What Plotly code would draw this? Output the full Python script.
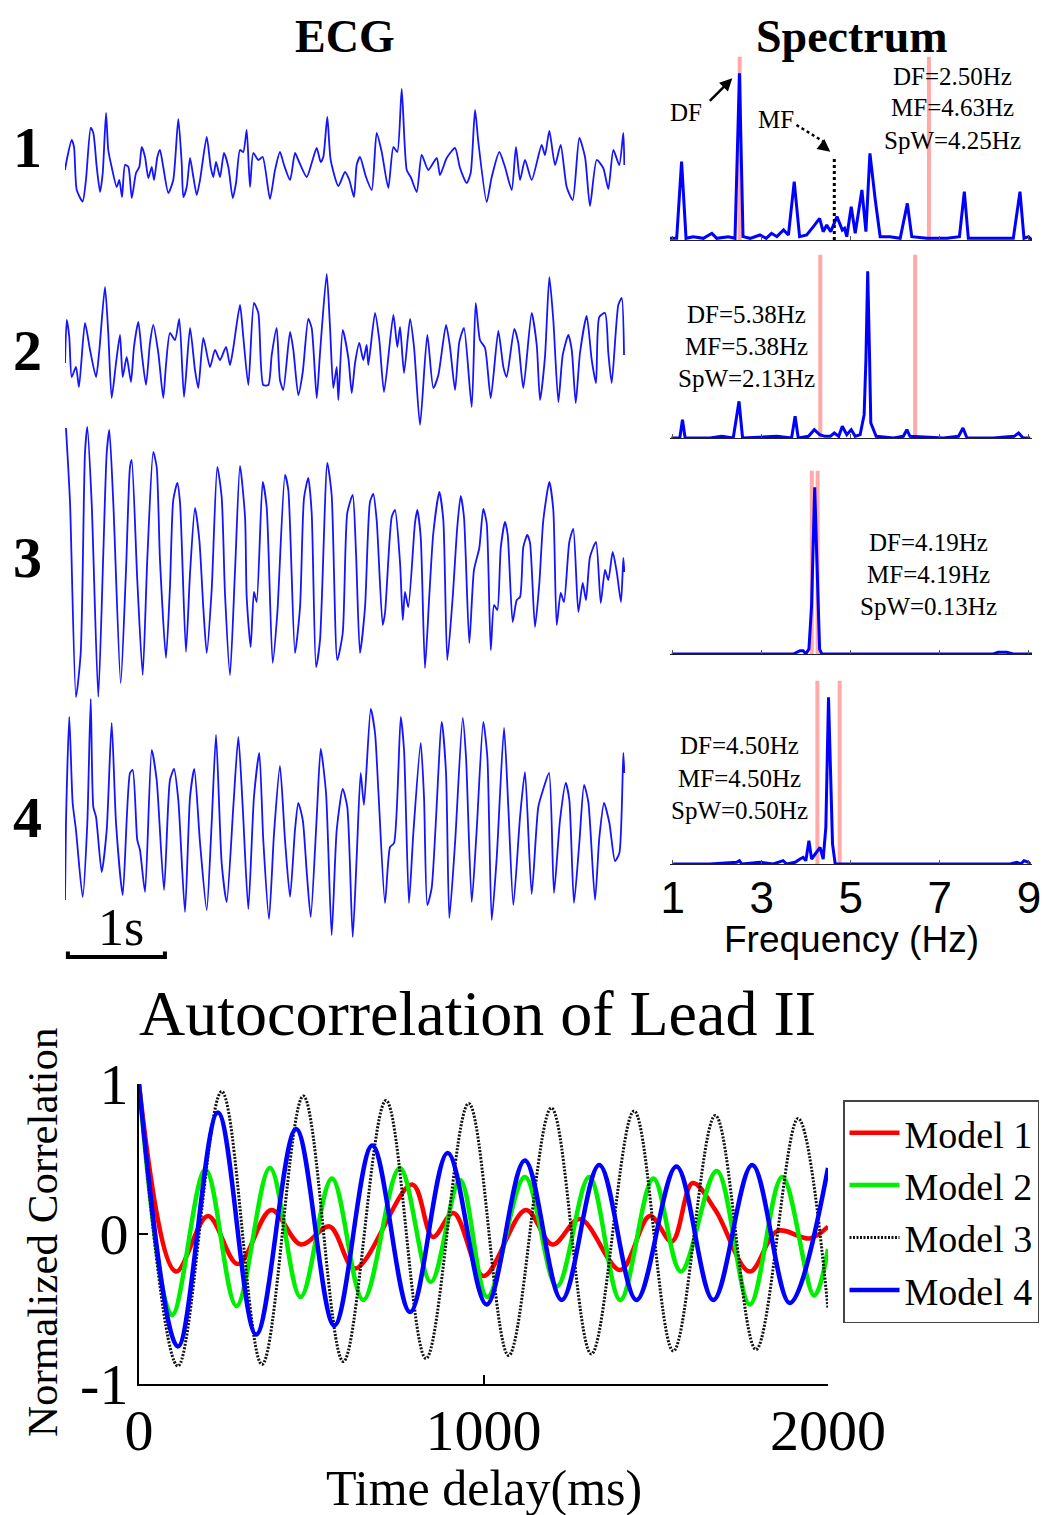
import plotly.graph_objects as go

W, H = 1044, 1515
SERIF = "Liberation Serif, Times New Roman, serif"
SANS = "Liberation Sans, Arial, sans-serif"


def px_x(p):
    return p / W


def px_y(p):
    return 1 - p / H


def axis_key(kind, i):
    return f"{kind}axis" if i == 1 else f"{kind}axis{i}"


def axis_ref(kind, i):
    return kind if i == 1 else f"{kind}{i}"


# ---------------------------------------------------------------- ECG traces
# (time in s, amplitude in mV)
ecg1 = [(0.000, -0.10), (0.018, 0.10), (0.069, 0.50), (0.093, 0.36), (0.121, -0.50), (0.182, -0.73),
        (0.216, -0.30), (0.265, 0.74), (0.292, 0.64), (0.327, -0.04), (0.361, -0.54), (0.389, -0.16),
        (0.423, 1.04), (0.446, 0.30), (0.481, -0.04), (0.533, -0.44), (0.560, -0.30), (0.588, -0.64),
        (0.619, 0.00), (0.653, -0.04), (0.688, -0.66), (0.732, -0.16), (0.766, -0.04), (0.791, 0.36),
        (0.825, 0.16), (0.859, -0.26), (0.894, -0.04), (0.918, -0.30), (0.952, 0.16), (0.979, 0.30),
        (1.013, -0.04), (1.065, -0.56), (1.116, -0.30), (1.168, 0.92), (1.203, 0.04), (1.220, -0.64),
        (1.255, -0.44), (1.289, 0.14), (1.323, -0.24), (1.358, -0.60), (1.392, -0.30), (1.461, 0.56),
        (1.502, -0.04), (1.529, -0.24), (1.557, 0.06), (1.598, -0.24), (1.639, 0.24), (1.684, -0.04),
        (1.729, -0.66), (1.763, -0.36), (1.804, 0.30), (1.838, 0.26), (1.873, 0.70), (1.907, -0.44),
        (1.941, 0.24), (1.993, 0.10), (2.038, 0.16), (2.113, -0.68), (2.165, -0.10), (2.216, 0.26),
        (2.258, 0.00), (2.320, -0.30), (2.371, 0.24), (2.405, 0.10), (2.492, -0.24), (2.543, 0.04),
        (2.595, 0.34), (2.636, 0.06), (2.663, 0.16), (2.704, 0.96), (2.739, 0.10), (2.818, -0.42),
        (2.887, -0.14), (2.931, -0.30), (2.979, -0.64), (3.007, 0.00), (3.041, 0.16), (3.103, -0.24),
        (3.162, -0.50), (3.213, 0.64), (3.265, 0.26), (3.333, -0.46), (3.385, 0.36), (3.426, 0.26),
        (3.471, 1.52), (3.523, -0.10), (3.564, -0.24), (3.626, -0.54), (3.677, 0.20), (3.745, -0.10),
        (3.832, 0.14), (3.866, -0.20), (3.935, 0.14), (4.021, 0.34), (4.072, -0.06), (4.141, -0.36),
        (4.182, -0.16), (4.227, 1.10), (4.261, 0.46), (4.347, -0.74), (4.399, -0.24), (4.477, 0.26),
        (4.536, -0.04), (4.605, -0.50), (4.649, 0.36), (4.691, -0.30), (4.742, 0.10), (4.811, -0.30),
        (4.914, 0.40), (4.948, 0.20), (4.993, 0.68), (5.052, 0.00), (5.110, 0.40), (5.172, -0.44),
        (5.234, -0.70), (5.302, 0.54), (5.361, 0.16), (5.412, -0.82), (5.481, 0.10), (5.549, -0.06),
        (5.601, -0.48), (5.653, 0.30), (5.714, 0.00), (5.756, 0.64), (5.766, 0.00)]

ecg2 = [(0.000, -0.16), (0.018, 0.70), (0.044, 0.36), (0.069, -0.44), (0.113, -0.24), (0.144, -0.64),
        (0.206, 0.64), (0.258, 0.10), (0.320, -0.44), (0.354, 0.10), (0.412, 1.36), (0.446, 0.44),
        (0.481, -0.86), (0.526, -0.16), (0.567, 0.40), (0.595, -0.44), (0.636, -0.04), (0.680, -0.54),
        (0.711, 0.16), (0.756, 0.66), (0.791, 0.04), (0.835, -0.60), (0.876, 0.24), (0.910, 0.60),
        (0.962, 0.04), (1.013, -0.86), (1.041, -0.20), (1.082, 0.44), (1.134, 0.30), (1.178, 0.72),
        (1.227, -0.84), (1.289, 0.54), (1.340, -0.30), (1.374, -0.66), (1.426, 0.34), (1.495, -0.24),
        (1.546, 0.10), (1.598, -0.10), (1.660, 0.16), (1.701, -0.20), (1.735, 0.14), (1.804, 1.00),
        (1.838, 0.36), (1.890, -0.60), (1.948, 1.04), (1.993, 0.84), (2.044, -0.60), (2.096, -0.60),
        (2.131, 0.00), (2.182, 0.54), (2.216, -0.50), (2.250, -0.70), (2.320, 0.46), (2.354, 0.10),
        (2.405, -0.80), (2.451, -0.34), (2.508, 0.72), (2.543, 0.54), (2.595, -0.86), (2.629, 0.04),
        (2.698, 1.62), (2.732, 0.56), (2.766, -0.66), (2.801, -0.24), (2.818, -0.90), (2.863, 0.50),
        (2.921, -0.06), (2.956, -0.76), (2.990, -0.16), (3.034, 0.24), (3.075, -0.10), (3.110, 0.20),
        (3.127, -0.20), (3.196, 0.84), (3.240, 0.30), (3.289, -0.74), (3.385, 0.80), (3.426, 0.16),
        (3.454, 0.56), (3.495, -0.36), (3.557, 0.72), (3.598, 0.16), (3.660, -1.40), (3.735, 0.40),
        (3.797, -0.66), (3.849, -0.40), (3.928, 0.60), (3.969, 0.16), (4.021, -0.70), (4.065, 0.26),
        (4.113, 0.54), (4.193, -1.04), (4.234, 1.04), (4.278, 0.30), (4.330, 0.14), (4.389, -0.86),
        (4.467, 0.48), (4.519, -0.24), (4.553, -0.44), (4.632, 0.52), (4.673, 0.24), (4.725, -0.66),
        (4.811, 0.84), (4.863, 0.20), (4.897, -0.90), (4.948, -0.04), (4.993, 1.56), (5.034, 0.70),
        (5.086, -0.94), (5.131, 0.00), (5.189, 0.40), (5.224, 0.10), (5.265, -0.96), (5.309, 0.04),
        (5.378, 0.78), (5.430, -0.10), (5.474, -0.56), (5.508, 0.76), (5.567, 0.84), (5.601, 0.04),
        (5.636, -0.56), (5.704, 1.00), (5.739, 1.14), (5.763, 0.00)]

ecg3 = [(0.010, 2.64), (0.052, 1.14), (0.113, -2.74), (0.162, -1.86), (0.206, 2.14), (0.230, 2.66),
        (0.275, 1.14), (0.343, -2.74), (0.395, 0.14), (0.430, 2.14), (0.457, 2.60), (0.498, 1.14),
        (0.574, -2.46), (0.629, -0.20), (0.670, 1.86), (0.688, 2.00), (0.745, -0.40), (0.801, -2.30),
        (0.848, 0.00), (0.910, 2.16), (0.945, 1.86), (0.979, 0.00), (1.041, -1.96), (1.082, -0.54),
        (1.116, 1.20), (1.158, 1.54), (1.186, 1.14), (1.247, -1.84), (1.289, -0.26), (1.340, 1.04),
        (1.385, 0.40), (1.426, -0.96), (1.461, -1.86), (1.512, -0.60), (1.570, 1.86), (1.615, 1.26),
        (1.649, -0.66), (1.701, -2.30), (1.753, -0.20), (1.804, 1.88), (1.856, 0.86), (1.873, -0.74),
        (1.914, -1.74), (1.948, -0.64), (1.976, -0.84), (2.038, 1.56), (2.079, 1.06), (2.141, -2.06),
        (2.189, -1.06), (2.268, 1.70), (2.302, 1.40), (2.371, -1.86), (2.423, -0.94), (2.464, 1.24),
        (2.508, 1.64), (2.543, 0.94), (2.588, -2.14), (2.629, -1.60), (2.704, 1.94), (2.749, 1.30),
        (2.807, -2.00), (2.863, -1.46), (2.910, 0.94), (2.966, 1.30), (3.000, 0.14), (3.041, -1.86),
        (3.093, -0.94), (3.144, 1.16), (3.178, 1.32), (3.213, 0.80), (3.275, -1.30), (3.299, -1.06),
        (3.368, 0.86), (3.402, 1.00), (3.454, -0.06), (3.482, -1.20), (3.505, -0.64), (3.539, -0.94),
        (3.608, 0.74), (3.632, 1.00), (3.667, 0.46), (3.711, -2.16), (3.756, -0.70), (3.797, 0.54),
        (3.859, 1.36), (3.900, 0.80), (3.941, -2.00), (3.997, -0.74), (4.044, 0.66), (4.079, 1.28),
        (4.113, 0.86), (4.168, -1.66), (4.216, -0.20), (4.271, 0.24), (4.312, 1.02), (4.347, 0.74),
        (4.389, -1.80), (4.423, -0.90), (4.457, -1.00), (4.492, 0.24), (4.536, 0.76), (4.564, 0.50),
        (4.615, -1.24), (4.657, -0.80), (4.691, -0.74), (4.725, 0.26), (4.766, 0.50), (4.794, 0.34),
        (4.845, -1.34), (4.890, -0.46), (4.931, 0.80), (4.993, 1.56), (5.034, 1.00), (5.069, -1.30),
        (5.110, -0.66), (5.144, -0.84), (5.199, 0.36), (5.240, 0.62), (5.292, -1.04), (5.337, -0.46),
        (5.371, -0.80), (5.412, 0.06), (5.474, 0.36), (5.523, -0.86), (5.567, -0.20), (5.601, -0.40),
        (5.646, 0.16), (5.688, -0.24), (5.732, -0.84), (5.756, 0.04), (5.766, -0.24)]

ecg4 = [(0.000, -1.60), (0.010, -0.06), (0.044, 2.06), (0.079, 0.34), (0.113, -0.20), (0.182, -1.54),
        (0.230, -0.06), (0.265, 2.42), (0.292, 0.26), (0.320, 0.06), (0.378, -1.04), (0.430, -0.20),
        (0.481, 1.94), (0.526, -0.06), (0.595, -1.50), (0.670, 0.94), (0.698, 1.00), (0.745, -0.40),
        (0.773, -0.60), (0.825, -1.44), (0.894, 1.40), (0.945, 0.80), (1.021, -1.40), (1.082, 0.80),
        (1.124, 1.02), (1.168, 0.40), (1.237, -1.84), (1.289, 0.46), (1.333, 1.02), (1.392, -0.46),
        (1.461, -1.80), (1.512, -0.06), (1.557, 1.70), (1.615, -0.86), (1.667, -1.64), (1.735, 0.26),
        (1.787, 1.66), (1.832, 0.26), (1.890, -1.78), (1.948, 0.46), (2.003, 1.34), (2.044, -0.40),
        (2.103, -1.98), (2.155, -0.26), (2.216, 1.08), (2.268, -0.40), (2.320, -1.54), (2.371, -0.20),
        (2.405, 0.34), (2.451, 0.00), (2.492, -1.04), (2.533, -1.94), (2.595, 0.06), (2.636, 1.42),
        (2.691, 0.54), (2.749, -2.30), (2.801, -0.20), (2.863, 0.62), (2.910, 0.26), (2.966, -2.34),
        (3.007, -0.74), (3.048, 0.94), (3.082, 0.30), (3.152, 2.22), (3.196, 1.74), (3.230, 0.60),
        (3.299, -1.66), (3.351, -0.54), (3.392, -0.46), (3.461, 2.06), (3.495, 1.40), (3.546, -1.66),
        (3.591, -0.26), (3.667, 1.54), (3.701, 0.46), (3.735, -1.70), (3.780, -1.36), (3.884, 1.96),
        (3.928, 0.94), (3.962, -1.96), (4.021, -0.46), (4.100, 2.04), (4.134, 1.26), (4.193, -1.64),
        (4.244, -0.20), (4.312, 1.96), (4.354, 1.26), (4.399, -2.00), (4.451, -0.74), (4.526, 1.84),
        (4.570, 0.26), (4.622, -1.70), (4.691, 0.06), (4.742, 0.96), (4.811, -1.48), (4.879, 0.26),
        (4.931, 0.62), (4.990, 0.94), (5.041, -1.46), (5.103, 0.00), (5.162, 0.74), (5.199, 0.40),
        (5.247, -1.66), (5.302, -0.46), (5.351, 0.70), (5.395, 0.36), (5.464, -1.60), (5.508, -0.36),
        (5.557, 0.34), (5.612, -0.06), (5.670, -0.82), (5.715, -0.66), (5.756, 1.34), (5.766, 0.94)]

ecg_rows = [ecg1, ecg2, ecg3, ecg4]
ecg_labels = ["1", "2", "3", "4"]
scale_bar_s = 1.0

# ---------------------------------------------------------------- spectra
# (frequency in Hz, normalised power)
spec1 = [(0.94, 0.01), (1.09, 0.01), (1.20, 0.47), (1.30, 0.01), (1.46, 0.02), (1.69, 0.01), (1.88, 0.04),
         (1.99, 0.01), (2.25, 0.02), (2.40, 0.01), (2.50, 1.00), (2.58, 0.02), (2.74, 0.01), (2.96, 0.03),
         (3.10, 0.01), (3.22, 0.04), (3.34, 0.02), (3.49, 0.06), (3.60, 0.03), (3.73, 0.35), (3.85, 0.02),
         (4.01, 0.03), (4.16, 0.08), (4.30, 0.13), (4.38, 0.05), (4.46, 0.09), (4.55, 0.05), (4.69, 0.14),
         (4.81, 0.06), (4.86, 0.07), (4.91, 0.02), (5.01, 0.20), (5.10, 0.04), (5.25, 0.30), (5.34, 0.05),
         (5.43, 0.52), (5.55, 0.24), (5.66, 0.02), (5.88, 0.02), (6.11, 0.01), (6.27, 0.22), (6.37, 0.02),
         (6.71, 0.01), (7.16, 0.01), (7.44, 0.02), (7.55, 0.29), (7.64, 0.01), (8.05, 0.01), (8.65, 0.01),
         (8.80, 0.29), (8.89, 0.01), (8.99, 0.02), (9.07, 0.00)]

spec2 = [(0.97, 0.00), (1.16, 0.00), (1.22, 0.11), (1.28, 0.00), (1.84, 0.00), (2.10, 0.01), (2.36, 0.00),
         (2.49, 0.22), (2.57, 0.00), (3.34, 0.01), (3.67, 0.00), (3.75, 0.13), (3.82, 0.00), (4.05, 0.01),
         (4.18, 0.05), (4.30, 0.02), (4.42, 0.01), (4.54, 0.01), (4.63, 0.03), (4.73, 0.01), (4.81, 0.07),
         (4.91, 0.02), (5.01, 0.05), (5.10, 0.01), (5.21, 0.02), (5.30, 0.14), (5.34, 0.47), (5.38, 1.00),
         (5.42, 0.51), (5.45, 0.09), (5.57, 0.01), (5.96, 0.00), (6.18, 0.01), (6.26, 0.05), (6.33, 0.01),
         (7.08, 0.00), (7.42, 0.01), (7.52, 0.06), (7.61, 0.00), (8.20, 0.00), (8.67, 0.01), (8.77, 0.03),
         (8.87, 0.00), (9.03, 0.00)]

spec3 = [(0.98, 0.00), (1.24, 0.00), (2.21, 0.00), (2.96, 0.00), (3.71, 0.00), (3.86, 0.02), (3.93, 0.02),
         (3.99, 0.00), (4.06, 0.03), (4.12, 0.29), (4.19, 1.00), (4.24, 0.55), (4.30, 0.03), (4.35, 0.00),
         (5.21, 0.00), (6.71, 0.00), (8.20, 0.00), (8.31, 0.01), (8.50, 0.01), (8.65, 0.00), (9.07, 0.00)]

spec4 = [(1.01, 0.00), (1.84, 0.00), (2.44, 0.01), (2.50, 0.02), (2.55, 0.00), (2.89, 0.01), (2.96, 0.01),
         (3.26, 0.00), (3.48, 0.02), (3.56, 0.00), (3.75, 0.01), (3.86, 0.03), (3.93, 0.04), (3.99, 0.02),
         (4.06, 0.14), (4.12, 0.03), (4.24, 0.07), (4.31, 0.10), (4.38, 0.03), (4.44, 0.22), (4.50, 1.00),
         (4.55, 0.46), (4.59, 0.12), (4.65, 0.00), (5.96, 0.00), (7.46, 0.00), (8.58, 0.00), (8.73, 0.01),
         (8.82, 0.00), (8.89, 0.02), (8.99, 0.01), (9.03, 0.00)]

spectra = [spec1, spec2, spec3, spec4]
spec_df = [2.50, 5.38, 4.19, 4.50]    # dominant frequency
spec_mf = [4.63, 5.38, 4.19, 4.50]    # mean frequency
spec_spw = [4.25, 2.13, 0.13, 0.50]   # spectral width
mf_marker_level = 0.50
freq_ticks = [1, 3, 5, 7, 9]

# ---------------------------------------------------------------- autocorrelation
# (time delay in ms, normalised correlation) at the turning points of each curve
model1 = [(0, 1.00), (107, -0.25), (200, 0.12), (287, -0.20), (384, 0.16), (470, -0.07), (553, 0.05),
          (627, -0.23), (793, 0.33), (853, -0.02), (913, 0.14), (1000, -0.28), (1123, 0.16), (1200, -0.07),
          (1280, 0.10), (1397, -0.24), (1483, 0.12), (1547, -0.05), (1607, 0.34), (1673, 0.16),
          (1773, -0.25), (1853, 0.02), (1947, -0.03), (2000, 0.05)]
model2 = [(0, 1.00), (96, -0.54), (193, 0.43), (283, -0.48), (380, 0.44), (469, -0.42), (560, 0.37),
          (651, -0.44), (757, 0.44), (847, -0.32), (932, 0.36), (1011, -0.42), (1120, 0.38), (1213, -0.35),
          (1307, 0.38), (1397, -0.44), (1493, 0.37), (1573, -0.25), (1677, 0.42), (1773, -0.47),
          (1867, 0.38), (1960, -0.41), (2000, -0.10)]
model3 = [(0, 1.00), (113, -0.88), (240, 0.95), (357, -0.87), (477, 0.92), (593, -0.85), (717, 0.89),
          (833, -0.83), (957, 0.87), (1073, -0.81), (1197, 0.84), (1313, -0.80), (1437, 0.82),
          (1551, -0.78), (1673, 0.79), (1791, -0.77), (1913, 0.77), (2000, -0.50)]
model4 = [(0, 1.00), (113, -0.75), (229, 0.81), (340, -0.67), (456, 0.70), (567, -0.61), (677, 0.59),
          (787, -0.52), (896, 0.54), (1009, -0.47), (1120, 0.49), (1227, -0.44), (1336, 0.46),
          (1444, -0.44), (1560, 0.45), (1667, -0.44), (1780, 0.46), (1889, -0.46), (2000, 0.44)]
models = [model1, model2, model3, model4]
model_names = ["Model 1", "Model 2", "Model 3", "Model 4"]
model_styles = [dict(color="#ff0000", width=4.5), dict(color="#00ee00", width=4.5),
                dict(color="#111111", width=3, dash="2px,1.5px"), dict(color="#0000ff", width=4.5)]
lag_ticks = [0, 1000, 2000]
corr_ticks = [-1, 0, 1]

# ---------------------------------------------------------------- figure
fig = go.Figure()
layout = {}

ecg_base_px = [165, 355, 560, 820]          # vertical centre of each ECG strip
spec_base_px = [240, 438, 654, 864]         # baseline of each spectrum
ECG_SPAN = 5.773                            # seconds shown across the strip
PX_PER_MV = 50

for k, rows in enumerate(ecg_rows):
    i = k + 1
    t, v = zip(*rows)
    fig.add_trace(go.Scatter(x=t, y=v, mode="lines", xaxis=axis_ref("x", i), yaxis=axis_ref("y", i),
                             line=dict(color="#1414ff", width=1.8, shape="spline", smoothing=0.6),
                             showlegend=False, hoverinfo="skip"))
    half = 150 / PX_PER_MV
    b = ecg_base_px[k]
    layout[axis_key("x", i)] = dict(domain=[px_x(65), px_x(625)], range=[0, ECG_SPAN], visible=False,
                                    anchor=axis_ref("y", i))
    layout[axis_key("y", i)] = dict(domain=[px_y(b + 150), px_y(b - 150)], range=[-half, half],
                                    visible=False, anchor=axis_ref("x", i))

# 1 s scale bar under the last strip
t0 = 0.03
fig.add_trace(go.Scatter(x=[t0, t0, t0 + scale_bar_s, t0 + scale_bar_s], y=[-2.63, -2.74, -2.74, -2.63],
                         mode="lines", xaxis="x4", yaxis="y4", line=dict(color="black", width=4),
                         showlegend=False, hoverinfo="skip"))

for k, spec in enumerate(spectra):
    i = k + 5
    xr, yr = axis_ref("x", i), axis_ref("y", i)
    lo = spec_mf[k] - spec_spw[k] / 2
    hi = spec_mf[k] + spec_spw[k] / 2
    for edge in (lo, hi):
        fig.add_trace(go.Scatter(x=[edge, edge], y=[0, 1.1], mode="lines", xaxis=xr, yaxis=yr,
                                 line=dict(color="rgba(255,140,140,0.75)", width=4),
                                 showlegend=False, hoverinfo="skip"))
    f, a = zip(*spec)
    fig.add_trace(go.Scatter(x=f, y=a, mode="lines", xaxis=xr, yaxis=yr,
                             line=dict(color="#0000ff", width=3), showlegend=False, hoverinfo="skip"))
    b = spec_base_px[k]
    layout[axis_key("x", i)] = dict(
        domain=[px_x(670), px_x(1032)], range=[0.94, 9.07], anchor=yr,
        showline=True, linecolor="#222222", linewidth=1, ticks="inside", ticklen=4, tickcolor="#555555",
        tickvals=freq_ticks, showticklabels=(i == 8), showgrid=False, zeroline=False,
        tickfont=dict(family=SANS, size=44, color="black"), ticklabelstandoff=-5)
    layout[axis_key("y", i)] = dict(domain=[px_y(b), px_y(b - 200)], range=[0, 1.2], visible=False,
                                    anchor=xr)

# mean-frequency marker in the first spectrum
fig.add_trace(go.Scatter(x=[spec_mf[0], spec_mf[0]], y=[0, mf_marker_level], mode="lines",
                         xaxis="x5", yaxis="y5", line=dict(color="black", width=3, dash="dot"),
                         showlegend=False, hoverinfo="skip"))

for m, name, style in zip(models, model_names, model_styles):
    t, r = zip(*m)
    fig.add_trace(go.Scatter(x=t, y=r, mode="lines", name=name, xaxis="x9", yaxis="y9",
                             line=dict(shape="spline", smoothing=1.0, **style), hoverinfo="skip"))

layout["xaxis9"] = dict(domain=[px_x(139), px_x(828)], range=[0, 2000], anchor="y9",
                        showline=True, linecolor="black", linewidth=2, ticks="inside", ticklen=9,
                        tickwidth=2, tickcolor="black", tickvals=lag_ticks, showgrid=False, zeroline=False,
                        tickfont=dict(family=SERIF, size=58, color="black"), ticklabelstandoff=-6)
layout["yaxis9"] = dict(domain=[px_y(1384), px_y(1084)], range=[-1, 1], anchor="x9",
                        showline=True, linecolor="black", linewidth=2, ticks="inside", ticklen=9,
                        tickwidth=2, tickcolor="black", tickvals=corr_ticks,
                        ticktext=[str(v) for v in corr_ticks], showgrid=False, zeroline=False,
                        tickfont=dict(family=SERIF, size=58, color="black"), ticklabelstandoff=-3)

# ---------------------------------------------------------------- text
ann = []


def text(x, y, s, size, family=SERIF, bold=False, angle=0):
    ann.append(dict(x=px_x(x), y=px_y(y), xref="paper", yref="paper", text=f"<b>{s}</b>" if bold else s,
                    showarrow=False, xanchor="center", yanchor="middle", textangle=angle,
                    font=dict(family=family, size=size, color="black")))


text(345, 37, "ECG", 46, bold=True)
text(852, 37, "Spectrum", 46, bold=True)
for lab, y in zip(ecg_labels, [148, 350, 557, 818]):
    text(27, y, lab, 58, bold=True)
text(121, 927, "1s", 52)

block_pos = [(952, 76), (746, 314), (928, 542), (739, 746)]
for k, (cx, cy) in enumerate(block_pos):
    lines = [f"DF={spec_df[k]:.2f}Hz", f"MF={spec_mf[k]:.2f}Hz", f"SpW={spec_spw[k]:.2f}Hz"]
    for j, s in enumerate(lines):
        text(cx, cy + 32 * j, s, 25)

text(686, 112, "DF", 25)
text(776, 119, "MF", 25)
text(851, 940, "Frequency (Hz)", 37, family=SANS)

text(477, 1013, "Autocorrelation of Lead II", 64)
text(484, 1488, "Time delay(ms)", 50)
text(42, 1232, "Normalized Correlation", 43, angle=-90)

# arrow to the dominant-frequency peak
ann.append(dict(x=spec_df[0] - 0.16, y=0.97, xref="x5", yref="y5", ax=-24, ay=24, axref="pixel",
                ayref="pixel", text="", showarrow=True, arrowhead=2, arrowsize=1, arrowwidth=2.5,
                arrowcolor="black"))
# dashed pointer to the mean-frequency marker
mf_tip_x = spec_mf[0] - 0.09
ann.append(dict(x=mf_tip_x, y=mf_marker_level + 0.03, xref="x5", yref="y5", ax=-9, ay=-7,
                text="", showarrow=True, arrowhead=2, arrowsize=1, arrowwidth=2.5, arrowcolor="black"))
shapes = [dict(type="line", xref="x5", yref="y5", x0=3.78, y0=0.69, x1=mf_tip_x - 0.15,
               y1=mf_marker_level + 0.09, line=dict(color="black", width=2.5, dash="dot"))]

layout.update(
    width=W, height=H, margin=dict(l=0, r=0, t=0, b=0, autoexpand=False),
    paper_bgcolor="white", plot_bgcolor="rgba(0,0,0,0)",
    annotations=ann, shapes=shapes,
    legend=dict(x=px_x(843), y=px_y(1100), xanchor="left", yanchor="top", bgcolor="white",
                bordercolor="#444444", borderwidth=1.5, itemwidth=50, tracegroupgap=0,
                font=dict(family=SERIF, size=38, color="black")),
    showlegend=True,
)
fig.update_layout(layout)
fig.write_html("out.html")
